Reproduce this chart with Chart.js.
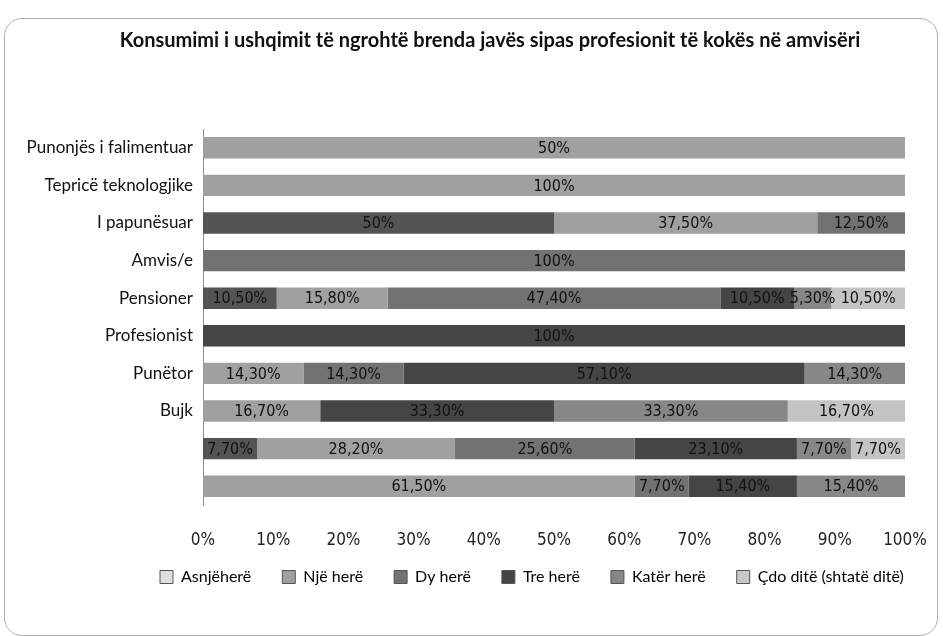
<!DOCTYPE html>
<html>
<head>
<meta charset="utf-8">
<script src="https://cdn.jsdelivr.net/npm/chart.js@4.4.0/dist/chart.umd.min.js"></script>
<style>
  body { margin: 0; background: #fff; }
  #frame { position: absolute; left: 4px; top: 18px; width: 932px; height: 616px; border: 1px solid #b0b0b0; border-radius: 18px; }
  #wrap { position: absolute; left: 0; top: 0; width: 943px; height: 636px; }
</style>
</head>
<body>
<div id="frame"></div>
<div id="wrap"><canvas id="barChart"></canvas></div>

<script>
  var chartTitle = 'Konsumimi i ushqimit të ngrohtë brenda javës sipas profesionit të kokës në amvisëri';
  var categories = ['Punonjës i falimentuar', 'Tepricë teknologjike', 'I papunësuar', 'Amvis/e', 'Pensioner', 'Profesionist', 'Punëtor', 'Bujk', '', ''];
  var seriesNames = ['Asnjëherë', 'Një herë', 'Dy herë', 'Tre herë', 'Katër herë', 'Çdo ditë (shtatë ditë)'];

  // percentages as printed on the bars (100% stacked chart)
  var asnjehere = [0, 0, 50, 0, 10.5, 0, 0, 0, 7.7, 0];
  var njeHere = [50, 100, 37.5, 0, 15.8, 0, 14.3, 16.7, 28.2, 61.5];
  var dyHere = [0, 0, 12.5, 100, 47.4, 0, 14.3, 0, 25.6, 7.7];
  var treHere = [0, 0, 0, 0, 10.5, 100, 57.1, 33.3, 23.1, 15.4];
  var katerHere = [0, 0, 0, 0, 5.3, 0, 14.3, 33.3, 7.7, 15.4];
  var cdoDite = [0, 0, 0, 0, 10.5, 0, 0, 16.7, 7.7, 0];
  var xTicks = [0, 10, 20, 30, 40, 50, 60, 70, 80, 90, 100];

  var barColors = ['#545454', '#a0a0a0', '#727272', '#454545', '#878787', '#c4c4c4'];
  var legendColors = ['#dedede', '#a0a0a0', '#727272', '#454545', '#878787', '#c8c8c8'];
  var narrowFont = '"Liberation Sans Narrow", "DejaVu Sans Condensed", sans-serif';
  var legendPad = 31;

  var allSeries = [asnjehere, njeHere, dyHere, treHere, katerHere, cdoDite];
  var rowTotals = categories.map(function (c, i) {
    var t = 0;
    allSeries.forEach(function (s) { t += s[i]; });
    return t;
  });

  var datasets = allSeries.map(function (s, k) {
    return {
      label: seriesNames[k],
      raw: s,
      data: s.map(function (v, i) { return v / rowTotals[i] * 100; }),
      backgroundColor: barColors[k],
      borderWidth: 0,
      barPercentage: 0.57,
      categoryPercentage: 1
    };
  });

  function fmt(v) {
    if (Math.round(v) === v) return v + '%';
    return v.toFixed(2).replace('.', ',') + '%';
  }

  var titlePlugin = {
    id: 'excelTitle',
    afterLayout: function (chart) {
      // put the legend where the Excel one is
      var lg = chart.legend;
      var h = lg.bottom - lg.top;
      lg.left = 160 - legendPad;
      lg.top = 577 - legendPad - 8;
      lg.bottom = lg.top + h;
    },
    afterDraw: function (chart) {
      var ctx = chart.ctx;
      ctx.save();
      ctx.font = 'bold 20px Lato, sans-serif';
      ctx.fillStyle = '#111';
      ctx.textAlign = 'center';
      ctx.textBaseline = 'middle';
      ctx.fillText(chartTitle, 490, 41);
      ctx.restore();
    }
  };

  var labelPlugin = {
    id: 'barLabels',
    afterDatasetsDraw: function (chart) {
      var ctx = chart.ctx;
      ctx.save();
      ctx.font = '16px ' + narrowFont;
      ctx.fillStyle = '#111';
      ctx.textAlign = 'center';
      ctx.textBaseline = 'middle';
      chart.data.datasets.forEach(function (ds, k) {
        chart.getDatasetMeta(k).data.forEach(function (bar, i) {
          var v = ds.raw[i];
          if (!v) return;
          var c = bar.getCenterPoint();
          ctx.fillText(fmt(v), c.x, c.y + 1);
        });
      });
      ctx.restore();
    }
  };

  var ctxB = document.getElementById('barChart').getContext('2d');
  var myBarChart = new Chart(ctxB, {
    type: 'bar',
    data: { labels: categories, datasets: datasets },
    plugins: [titlePlugin, labelPlugin],
    options: {
      indexAxis: 'y',
      responsive: true,
      maintainAspectRatio: false,
      animation: false,
      layout: { padding: { top: 129, right: 0, bottom: 19, left: 0 } },
      scales: {
        x: {
          stacked: true,
          min: 0,
          max: 100,
          afterBuildTicks: function (scale) {
            scale.ticks = xTicks.map(function (v) { return { value: v }; });
          },
          afterFit: function (scale) {
            scale.height = 55;
            scale.paddingLeft = 0;
            scale.paddingRight = 38;
          },
          grid: { display: false, drawTicks: false },
          border: { display: false },
          ticks: {
            padding: 25,
            color: '#222',
            font: { family: narrowFont, size: 17 },
            callback: function (v) { return v + '%'; }
          }
        },
        y: {
          stacked: true,
          afterFit: function (scale) { scale.width = 203; },
          grid: { display: false, drawTicks: false },
          border: { display: true, color: '#8c8c8c', width: 1 },
          ticks: {
            padding: 10,
            color: '#111',
            font: { family: 'Lato, sans-serif', size: 17 }
          }
        }
      },
      plugins: {
        title: { display: false },
        tooltip: { enabled: false },
        legend: {
          position: 'bottom',
          align: 'start',
          labels: {
            boxWidth: 13,
            boxHeight: 13,
            padding: legendPad,
            color: '#111',
            font: { family: 'Lato, sans-serif', size: 16 },
            generateLabels: function (chart) {
              return chart.data.datasets.map(function (ds, k) {
                return {
                  text: ds.label,
                  fillStyle: legendColors[k],
                  strokeStyle: '#555',
                  lineWidth: 1,
                  datasetIndex: k,
                  hidden: false
                };
              });
            }
          }
        }
      }
    }
  });
</script>
</body>
</html>
